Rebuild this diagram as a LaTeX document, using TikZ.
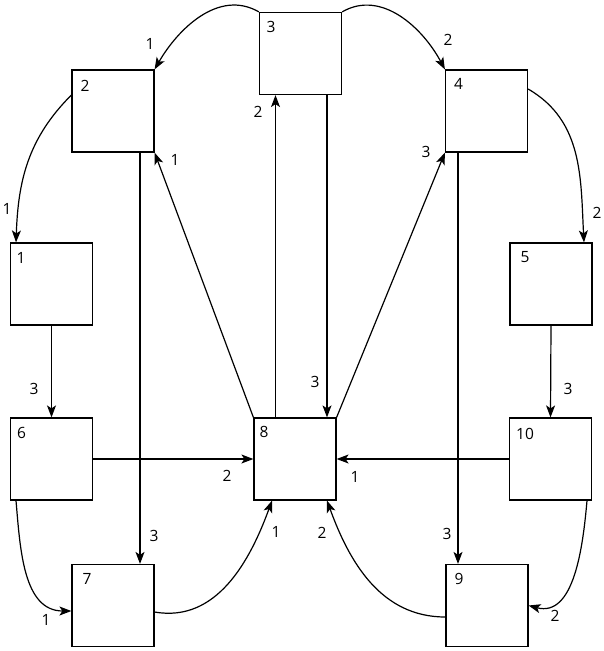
\documentclass[tikz,border=0pt]{standalone}
\usepackage{fontspec}
\setmainfont{Open Sans}
\usetikzlibrary{arrows.meta,calc}
\begin{document}
\begin{tikzpicture}[x=1pt,y=-1pt,
  box/.style={draw, line width=1.2pt, minimum size=82pt, inner sep=0pt},
  conn/.style={line width=1.2pt, -{Stealth[length=12pt,width=9pt,inset=3pt]}},
  lbl/.style={inner sep=0pt, font=\fontsize{15.5}{18}\selectfont},
]
\useasboundingbox (0,0) rectangle (603,651);
% boxes
\node[box] (b2) at (113,111) {};
\node[box] (b3) at (300.5,53.5) {};
\node[box] (b4) at (486.5,111) {};
\node[box] (b1) at (51.5,284) {};
\node[box] (b5) at (551,284) {};
\node[box] (b6) at (51.5,459) {};
\node[box] (b8) at (295,459) {};
\node[box] (b10) at (550.5,459) {};
\node[box] (b7) at (113,605.5) {};
\node[box] (b9) at (487,605.5) {};
% box numbers
\node[lbl] (t2) at (85,85.5) {2};
\node[lbl] (t3) at (271,27) {3};
\node[lbl] (t4) at (458.5,84) {4};
\node[lbl] (t1) at (21,258) {1};
\node[lbl] (t6) at (21.5,432.5) {6};
\node[lbl] (t8) at (264,432) {8};
\node[lbl] (t5) at (525,257.5) {5};
\node[lbl] (t10) at (525,434) {10};
\node[lbl] (t7) at (87,579) {7};
\node[lbl] (t9) at (459,579) {9};
% connectors
\draw[conn] (b3.north west) to[out=150,in=60] (b2.north east);
\draw[conn] (b3.north east) to[out=30,in=118] (b4.north west);
\draw[conn] ([yshift=16pt]b2.west) to[out=225,in=88] ([xshift=-35.5pt]b1.north);
\draw[conn] ([yshift=22pt]b4.east) to[out=-30,in=93] ([xshift=33pt]b5.north);
\draw[conn] (b1.south) -- (b6.north);
\draw[conn] (b5.south) -- (b10.north);
\draw[conn] (b6.east) -- (b8.west);
\draw[conn] (b10.west) -- (b8.east);
\draw[conn] ([xshift=27pt]b2.south) -- ([xshift=27pt]b7.north);
\draw[conn] ([xshift=-28.5pt]b4.south) -- ([xshift=-28.5pt]b4.south |- b9.north);
\draw[conn] (b8.north west) -- (b2.south east);
\draw[conn] (b8.north east) -- (b4.south west);
\draw[conn] ([xshift=-19.5pt]b8.north) -- ([xshift=-19.5pt]b8.north |- b3.south);
\draw[conn] ([xshift=26.5pt]b3.south) -- ([xshift=26.5pt]b3.south |- b8.north);
\draw[conn] ([xshift=-35.5pt]b6.south) to[out=-85,in=180] ([yshift=-5.5pt]b7.west);
\draw[conn] ([yshift=-6.5pt]b7.east) to[out=-10,in=250] ([xshift=-23pt]b8.south);
\draw[conn] ([yshift=-11.5pt]b9.west) to[out=180,in=290] ([xshift=32pt]b8.south);
\draw[conn] ([xshift=36.5pt]b10.south) to[out=-95,in=-15] (b9.east);
% connector labels
\node[lbl] (l32) at (150,44) {1};
\node[lbl] (l82) at (175,160) {1};
\node[lbl] (l83) at (258,112) {2};
\node[lbl] (l34) at (448,40) {2};
\node[lbl] (l84) at (426,152) {3};
\node[lbl] (l21) at (7,209) {1};
\node[lbl] (l45) at (597,213) {2};
\node[lbl] (l16) at (34,389) {3};
\node[lbl] (l38) at (315,382) {3};
\node[lbl] (l510) at (568,389) {3};
\node[lbl] (l68) at (227,476) {2};
\node[lbl] (l27) at (154,536) {3};
\node[lbl] (l78) at (276,532) {1};
\node[lbl] (l67) at (46,620) {1};
\node[lbl] (l108) at (355,477) {1};
\node[lbl] (l98) at (322,533) {2};
\node[lbl] (l49) at (447,534) {3};
\node[lbl] (l109) at (555,616) {2};
\end{tikzpicture}
\end{document}
